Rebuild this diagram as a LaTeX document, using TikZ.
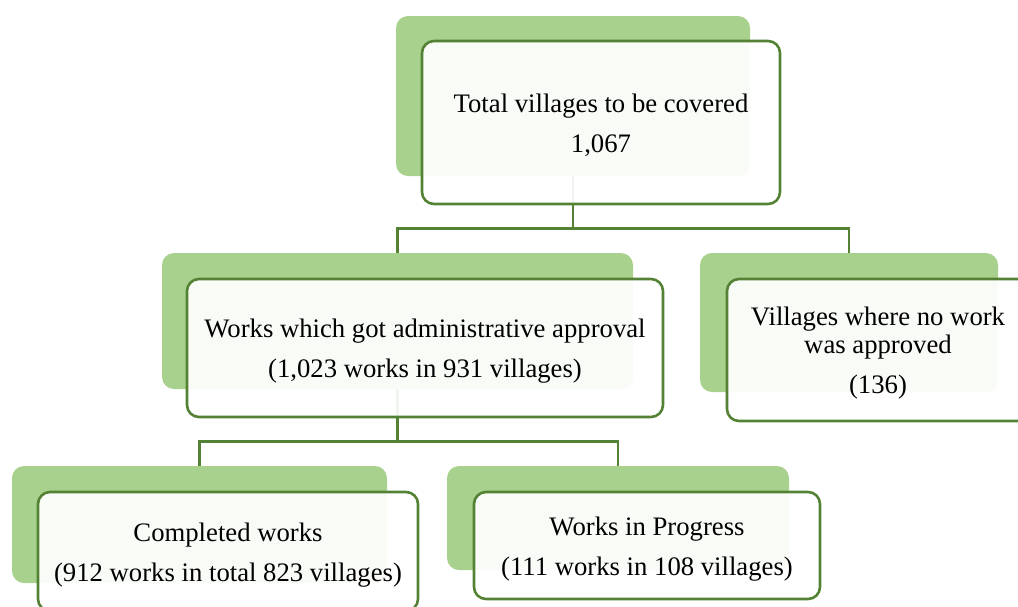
\documentclass[tikz,border=0pt]{standalone}
\usepackage{fontspec}
\setmainfont{Liberation Serif}
\usepackage{tikz}
\usetikzlibrary{calc}
\definecolor{backgreen}{HTML}{A9D18E}
\definecolor{linegreen}{HTML}{548235}
\newcommand{\boxlift}{\rule{0pt}{25pt}}

\begin{document}
\begin{tikzpicture}[%
  x=1pt, y=-1pt,
  back/.style={rectangle, rounded corners=12pt, fill=backgreen, draw=none,
    inner sep=0pt},
  front/.style={rectangle, rounded corners=12pt, draw=linegreen, line width=2.6pt,
    fill=white, fill opacity=0.92, text opacity=1, inner sep=0pt, align=center,
    font=\fontsize{26.7}{40}\selectfont},
  link/.style={draw=linegreen, line width=2.8pt},
]

  \useasboundingbox (0,0) rectangle (1018,606);
  \clip (0,0) rectangle (1018,606);

  \node[back, minimum width=354pt, minimum height=160pt] (totalbk) at (573,96) {};
  \node[back, minimum width=471pt, minimum height=136pt] (approvedbk) at (397.5,321) {};
  \node[back, minimum width=298pt, minimum height=139pt] (noworkbk) at (849,322.5) {};
  \node[back, minimum width=375pt, minimum height=117pt] (completebk) at (199.5,524.5) {};
  \node[back, minimum width=342pt, minimum height=104pt] (progressbk) at (618,518) {};

  \draw[link] (totalbk.south) -- ++(0,52) coordinate (tj);
  \draw[link] (approvedbk.north) |- (tj) -| (noworkbk.north);
  \draw[link] (approvedbk.south) -- ++(0,52) coordinate (aj);
  \draw[link] (completebk.north) |- (aj) -| (progressbk.north);

  \node[front, minimum width=358pt, minimum height=163pt] (total) at (601,122.5)
    {\boxlift Total villages to be covered\\1,067};
  \node[front, minimum width=476pt, minimum height=138pt] (approved) at (425,348)
    {\boxlift Works which got administrative approval\\(1,023 works in 931 villages)};
  \node[front, minimum width=302pt, minimum height=142pt] (nowork) at (878,350)
    {\boxlift Villages where no work\\[-12pt]was approved\\(136)};
  \node[front, minimum width=380pt, minimum height=119pt] (complete) at (228,551.5)
    {\boxlift Completed works\\(912 works in total 823 villages)};
  \node[front, minimum width=346pt, minimum height=107pt] (progress) at (647,545.5)
    {\boxlift Works in Progress\\(111 works in 108 villages)};

\end{tikzpicture}
\end{document}
